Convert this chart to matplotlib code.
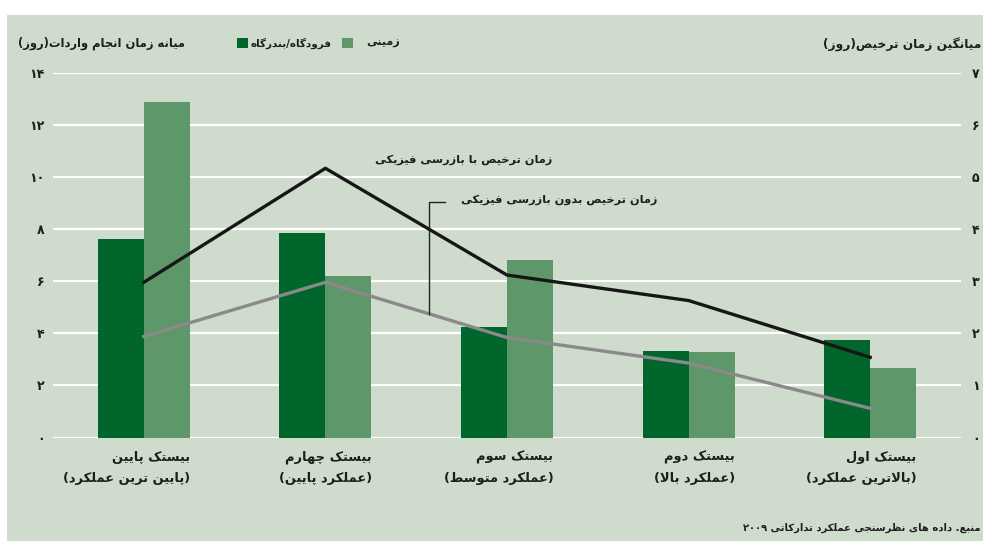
import re
import numpy as np
import matplotlib
matplotlib.use("Agg")
import matplotlib.pyplot as plt
from matplotlib.patches import Rectangle

# --- data ---------------------------------------------------------------
categories = ["بیستک پایین\n(پایین ترین عملکرد)",
              "بیستک چهارم\n(عملکرد پایین)",
              "بیستک سوم\n(عملکرد متوسط)",
              "بیستک دوم\n(عملکرد بالا)",
              "بیستک اول\n(بالاترین عملکرد)"]
port = [7.64, 7.86, 4.23, 3.33, 3.74]      # فرودگاه/بندرگاه (left axis)
land = [12.88, 6.19, 6.81, 3.28, 2.67]     # زمینی (left axis)
with_inspection = [2.98, 5.17, 3.12, 2.63, 1.54]     # right axis
without_inspection = [1.94, 2.98, 1.92, 1.43, 0.56]  # right axis
left_ticks = [0, 2, 4, 6, 8, 10, 12, 14]
right_ticks = [0, 1, 2, 3, 4, 5, 6, 7]

left_title = "میانه زمان انجام واردات(روز)"
right_title = "میانگین زمان ترخیص(روز)"
port_label = "فرودگاه/بندرگاه"
land_label = "زمینی"
with_label = "زمان ترخیص با بازرسی فیزیکی"
without_label = "زمان ترخیص بدون بازرسی فیزیکی"
source = "منبع. داده های نظرسنجی عملکرد تدارکاتی ۲۰۰۹"

# --- minimal Persian shaping (matplotlib has no bidi / joining) ---------
FORMS = {
    'ا': ('\uFE8D', '\uFE8E', None, None),
    'ب': ('\uFE8F', '\uFE90', '\uFE91', '\uFE92'),
    'پ': ('\uFB56', '\uFB57', '\uFB58', '\uFB59'),
    'ت': ('\uFE95', '\uFE96', '\uFE97', '\uFE98'),
    'ج': ('\uFE9D', '\uFE9E', '\uFE9F', '\uFEA0'),
    'چ': ('\uFB7A', '\uFB7B', '\uFB7C', '\uFB7D'),
    'خ': ('\uFEA5', '\uFEA6', '\uFEA7', '\uFEA8'),
    'د': ('\uFEA9', '\uFEAA', None, None),
    'ر': ('\uFEAD', '\uFEAE', None, None),
    'ز': ('\uFEAF', '\uFEB0', None, None),
    'س': ('\uFEB1', '\uFEB2', '\uFEB3', '\uFEB4'),
    'ش': ('\uFEB5', '\uFEB6', '\uFEB7', '\uFEB8'),
    'ص': ('\uFEB9', '\uFEBA', '\uFEBB', '\uFEBC'),
    'ط': ('\uFEC1', '\uFEC2', '\uFEC3', '\uFEC4'),
    'ظ': ('\uFEC5', '\uFEC6', '\uFEC7', '\uFEC8'),
    'ع': ('\uFEC9', '\uFECA', '\uFECB', '\uFECC'),
    'ف': ('\uFED1', '\uFED2', '\uFED3', '\uFED4'),
    'ک': ('\uFB8E', '\uFB8F', '\uFB90', '\uFB91'),
    'گ': ('\uFB92', '\uFB93', '\uFB94', '\uFB95'),
    'ل': ('\uFEDD', '\uFEDE', '\uFEDF', '\uFEE0'),
    'م': ('\uFEE1', '\uFEE2', '\uFEE3', '\uFEE4'),
    'ن': ('\uFEE5', '\uFEE6', '\uFEE7', '\uFEE8'),
    'ه': ('\uFEE9', '\uFEEA', '\uFEEB', '\uFEEC'),
    'و': ('\uFEED', '\uFEEE', None, None),
    'ی': ('\uFBFC', '\uFBFD', '\uFBFE', '\uFBFF'),
}
MIRROR = str.maketrans("()", ")(")
DIGITS = "0123456789\u06F0\u06F1\u06F2\u06F3\u06F4\u06F5\u06F6\u06F7\u06F8\u06F9"


def shape(s):
    s = s.replace('\u064A', 'ی').replace('\u0643', 'ک')
    out = []
    i, n = 0, len(s)
    while i < n:
        c = s[i]
        if c not in FORMS:
            out.append(c)
            i += 1
            continue
        prev = s[i - 1] if i > 0 else None
        joins_prev = prev in FORMS and FORMS[prev][2] is not None
        if c == 'ل' and i + 1 < n and s[i + 1] == 'ا':
            out.append('\uFEFC' if joins_prev else '\uFEFB')
            i += 2
            continue
        nxt = s[i + 1] if i + 1 < n else None
        joins_next = FORMS[c][2] is not None and nxt in FORMS
        iso, fin, ini, med = FORMS[c]
        if joins_prev and joins_next:
            out.append(med)
        elif joins_prev:
            out.append(fin)
        elif joins_next:
            out.append(ini)
        else:
            out.append(iso)
        i += 1
    return ''.join(out)


def fa(s):
    lines = []
    for line in s.split('\n'):
        sh = shape(line)
        tokens = re.findall('[%s]+|[^%s]+' % (DIGITS, DIGITS), sh)
        vis = []
        for t in reversed(tokens):
            if t[0] in DIGITS:
                vis.append(t)
            else:
                vis.append(t[::-1].translate(MIRROR))
        lines.append(''.join(vis))
    return '\n'.join(lines)


def fa_num(v):
    return str(v).translate(str.maketrans("0123456789", "۰۱۲۳۴۵۶۷۸۹"))


# --- style --------------------------------------------------------------
plt.rcParams['font.family'] = ['DejaVu Sans']
plt.rcParams['font.weight'] = 'bold'
panel_color = '#cfdccd'
dark_green = '#00662b'
light_green = '#5e976a'
text_color = '#1e1e1e'

W, H = 983, 541
fig = plt.figure(figsize=(W / 100, H / 100), dpi=100, facecolor='white')
fig.add_artist(Rectangle((7 / W, 0), 1.0, 1 - 15 / H, transform=fig.transFigure,
                         facecolor=panel_color, edgecolor='none', zorder=-1))

ax_left, ax_right_px, y0_px, y14_px = 53, 961, 437.5, 73
ax = fig.add_axes([ax_left / W, (H - y0_px) / H,
                   (ax_right_px - ax_left) / W, (y0_px - y14_px) / H])
ax.patch.set_visible(False)

x = np.arange(len(categories))
bw = 0.253
ax.bar(x - bw / 2, port, width=bw, color=dark_green, zorder=2)
ax.bar(x + bw / 2, land, width=bw, color=light_green, zorder=2)

ax.set_xlim(-0.5, len(categories) - 0.5)
ax.set_ylim(0, 14)
ax.set_yticks(left_ticks)
ax.set_yticklabels([fa_num(t) for t in left_ticks])
ax.set_xticks([])
ax.grid(axis='y', color='white', linewidth=1.6)
ax.set_axisbelow(True)
ax.tick_params(axis='y', length=0, pad=6, labelsize=9, labelcolor=text_color)
for sp in ax.spines.values():
    sp.set_visible(False)

ax2 = ax.twinx()
ax2.set_ylim(0, 7)
ax2.set_yticks(right_ticks)
ax2.set_yticklabels([fa_num(t) for t in right_ticks])
ax2.tick_params(axis='y', length=0, pad=8, labelsize=9, labelcolor=text_color)
for sp in ax2.spines.values():
    sp.set_visible(False)

ax2.plot(x, with_inspection, color='#161616', linewidth=2.4, zorder=3)
ax2.plot(x, without_inspection, color='#8a8a8a', linewidth=2.4, zorder=3)

# leader line for the lower series label
lx = 1.57
ly = np.interp(lx, x, without_inspection)
ax2.plot([lx + 0.09, lx, lx], [4.52, 4.52, ly], color='#222222', linewidth=1.0, zorder=3)

ax2.text(2.25, 5.33, fa(with_label), ha='right', va='center',
         fontsize=8.2, color=text_color)
ax2.text(2.83, 4.56, fa(without_label), ha='right', va='center',
         fontsize=8.2, color=text_color)

# category labels (right aligned under each group)
for i, lab in enumerate(categories):
    ax.text(i + 0.255, -0.037, fa(lab), transform=ax.get_xaxis_transform(),
            ha='right', va='top', multialignment='right', fontsize=9.4,
            linespacing=1.8, color=text_color, clip_on=False)

# axis titles
fig.text(18 / W, 1 - 43 / H, fa(left_title), ha='left', va='center',
         fontsize=8.3, color=text_color)
fig.text(981 / W, 1 - 45 / H, fa(right_title), ha='right', va='center',
         fontsize=8.8, color=text_color)

# legend
fig.add_artist(Rectangle((237 / W, 1 - 48 / H), 11 / W, 10 / H,
                         transform=fig.transFigure, facecolor=dark_green,
                         edgecolor='none'))
fig.text(250 / W, 1 - 43 / H, fa(port_label), ha='left', va='center',
         fontsize=7.5, color=text_color)
fig.add_artist(Rectangle((342 / W, 1 - 48 / H), 11 / W, 10 / H,
                         transform=fig.transFigure, facecolor=light_green,
                         edgecolor='none'))
fig.text(366 / W, 1 - 43 / H, fa(land_label), ha='left', va='center',
         fontsize=8, color=text_color)

# source
fig.text(981 / W, 1 - 528 / H, fa(source), ha='right', va='center',
         fontsize=7.2, color=text_color)

fig.savefig('out.png', dpi=100, facecolor='white')
